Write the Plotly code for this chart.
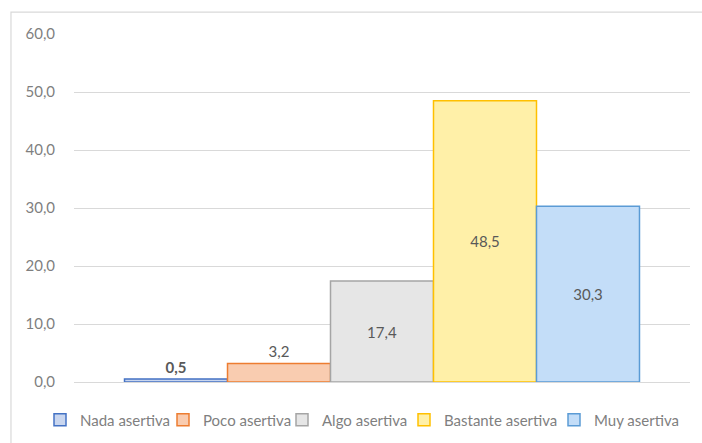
import plotly.graph_objects as go

categories = ["Nada asertiva", "Poco asertiva", "Algo asertiva", "Bastante asertiva", "Muy asertiva"]
values = [0.5, 3.2, 17.4, 48.5, 30.3]
tick_vals = [0, 10, 20, 30, 40, 50, 60]

fills = ["#C9D6EF", "#F9CCB0", "#E6E6E6", "#FFF0A8", "#C3DDF8"]
edges = ["#4472C4", "#ED7D31", "#A5A5A5", "#FFC000", "#5B9BD5"]

# centre of each legend swatch in the reference (px from the left)
legend_swatch_x = [57, 180, 299, 421, 571]

fig = go.Figure()
for i, (name, val) in enumerate(zip(categories, values)):
    small = val < 5
    fig.add_trace(go.Bar(
        name=name,
        x=[""],
        y=[val],
        marker=dict(color=fills[i], line=dict(color=edges[i], width=1.5)),
        texttemplate="%{y:.1f}",
        textposition="outside" if small else "inside",
        insidetextanchor="middle",
        textfont=dict(size=15, color="#595959",
                      weight="bold" if i == 0 else "normal"),
        cliponaxis=False,
        legend="legend" if i == 0 else f"legend{i + 1}",
    ))

# outer chart-area border (left and top edges visible)
fig.add_shape(type="rect", xref="paper", yref="paper",
              x0=-0.1023, x1=1.05, y0=-0.3, y1=1.063,
              line=dict(color="#D9D9D9", width=1.2), fillcolor="rgba(0,0,0,0)",
              layer="below")

# one single-entry legend per series, so the entries sit tight like the original
legends = {}
for i, sx in enumerate(legend_swatch_x):
    key = "legend" if i == 0 else f"legend{i + 1}"
    legends[key] = dict(orientation="h", xref="container", x=(sx + 3 - 20) / 702,
                        xanchor="left", yref="container", y=0.052, yanchor="middle",
                        font=dict(size=15, color="#7F7F7F"),
                        itemwidth=30, bgcolor="rgba(0,0,0,0)")

fig.update_layout(
    width=702, height=443,
    margin=dict(l=74, r=12, t=34, b=61, autoexpand=False),
    separators=",.",
    barmode="group",
    bargap=0.164,
    bargroupgap=0,
    plot_bgcolor="white",
    paper_bgcolor="white",
    font=dict(family="Lato, Open Sans, sans-serif", color="#7F7F7F", size=14),
    xaxis=dict(showticklabels=False, showline=False, showgrid=False, zeroline=False),
    yaxis=dict(range=[0, 60], tickvals=tick_vals, tickformat=".1f",
               gridcolor="#D9D9D9", gridwidth=1.2, zeroline=True,
               zerolinecolor="#D9D9D9", zerolinewidth=1.2,
               ticks="", ticklabelstandoff=18, automargin=False,
               tickfont=dict(size=15, color="#7F7F7F")),
    showlegend=True,
    **legends,
)

# drop the default page margin so the chart sits at the window's top-left corner
fig.write_html("out.html", config={"displayModeBar": False},
               post_script="document.body.style.margin='0';")
